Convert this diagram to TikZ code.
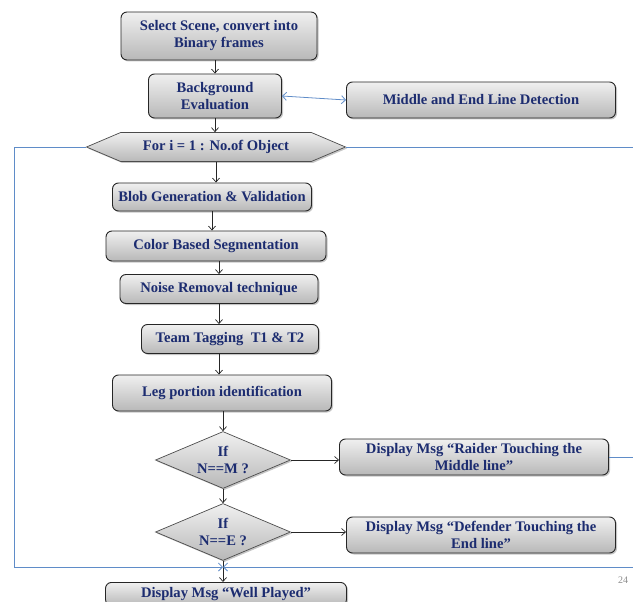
\documentclass[tikz,border=0pt]{standalone}
\usepackage{fontspec}
\setmainfont{Liberation Serif}
\usetikzlibrary{shapes.geometric,shapes.symbols,shadows,arrows.meta}
\definecolor{txt}{RGB}{28,44,112}
\definecolor{loopblue}{RGB}{95,140,200}
\definecolor{gtop}{RGB}{240,240,240}
\definecolor{gbot}{RGB}{184,184,184}
\tikzset{
  common/.style={draw=black!85, line width=0.9pt, top color=gtop, bottom color=gbot,
    font=\bfseries\fontsize{14.6}{17}\selectfont, text=txt, align=center, inner sep=1pt,
    drop shadow={shadow xshift=1.5pt, shadow yshift=-1.5pt, opacity=0.45}},
  box/.style={common, rectangle, rounded corners=6pt},
  dec/.style={common, diamond, aspect=2.37, inner sep=0pt, line width=0.7pt, draw=black!70},
  hexa/.style={common, signal, signal to=east and west, signal pointer angle=46, line width=0.7pt, draw=black!70},
  arr/.style={-{Straight Barb[length=4pt,width=7pt]}, black!85, line width=0.7pt},
  barr/.style={-{Straight Barb[length=4pt,width=8pt]}, loopblue, line width=0.8pt},
  bline/.style={loopblue, line width=0.8pt},
}
\begin{document}
\begin{tikzpicture}[x=1pt,y=-1pt]
\useasboundingbox (0,0) rectangle (633,602);
\clip (0,0) rectangle (633,602);
\node[box, minimum width=196pt, minimum height=48pt] (sel) at (219,36) {Select Scene, convert into\\Binary frames};
\node[box, minimum width=133pt, minimum height=44pt] (bg) at (215,96) {Background\\Evaluation};
\node[box, minimum width=269pt, minimum height=36pt] (mid) at (481,100) {Middle and End Line Detection};
\node[hexa, minimum width=259pt, minimum height=29pt] (hex) at (216,147) {For i = 1 : No.of Object};
\node[box, minimum width=199pt, minimum height=28pt] (blob) at (212,197) {Blob Generation \& Validation};
\node[box, minimum width=220pt, minimum height=30pt] (color) at (216,246) {Color Based Segmentation};
\node[box, minimum width=198pt, minimum height=29pt] (noise) at (219,289) {Noise Removal technique};
\node[box, minimum width=177pt, minimum height=29pt] (team) at (230,339) {Team Tagging~ T1 \& T2};
\node[box, minimum width=219pt, minimum height=36pt] (leg) at (222,393) {Leg portion identification};
\node[dec, minimum width=135pt, minimum height=57pt] (d1) at (223,460) {If\\N==M ?};
\node[box, minimum width=269pt, minimum height=36pt] (raider) at (474,457) {Display Msg “Raider Touching the\\Middle line”};
\node[dec, minimum width=135pt, minimum height=57pt] (d2) at (223,532) {If\\N==E ?};
\node[box, minimum width=269pt, minimum height=36pt] (def) at (481,535) {Display Msg “Defender Touching the\\End line”};
\node[box, minimum width=241pt, minimum height=23pt, inner ysep=0pt, anchor=north] (well) at (226,582) {Display Msg “Well Played”};
\node[text=black!45, font=\fontsize{10}{10}\selectfont, inner sep=0pt] (pg) at (623,580) {24};
% black flow arrows
\draw[arr] (sel.south -| bg) -- (bg.north);
\draw[arr] (bg.south) -- (bg.south |- hex.north);
\draw[arr] (hex.south) -- (hex.south |- blob.north);
\draw[arr] (blob.south) -- (blob.south |- color.north);
\draw[arr] (color.south -| noise) -- (noise.north);
\draw[arr] (noise.south) -- (noise.south |- team.north);
\draw[arr] (team.south -| noise) -- (noise |- leg.north);
\draw[arr] (leg.south -| d1) -- (d1.north);
\draw[arr] (d1.south) -- (d2.north);
\draw[arr] (d2.south) -- (d2.south |- well.north);
\draw[arr] (d1.east) -- (d1.east -| raider.west);
\draw[arr] (d2.east) -- (d2.east -| def.west);
% blue connectors
\draw[barr, {Straight Barb[length=4pt,width=8pt]}-{Straight Barb[length=4pt,width=8pt]}] (bg.east) -- (mid.west);
\coordinate (lpend) at (223,567);
\coordinate (lpl) at (14,147);
\coordinate (lpr) at (645,147);
\draw[barr] (hex.west) -- (lpl) -- (lpl |- lpend) -- (lpend);
\draw[barr] (hex.east) -- (lpr) -- (lpr |- lpend) -- (lpend);
\draw[bline] (raider.east) -- (raider.east -| lpr);
\end{tikzpicture}
\end{document}
